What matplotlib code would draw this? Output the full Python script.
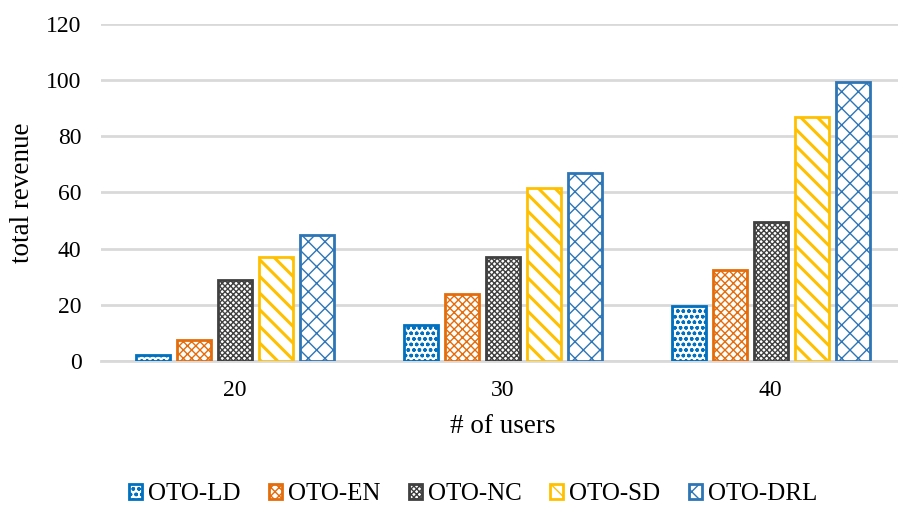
import numpy as np
import matplotlib
matplotlib.use("Agg")
import matplotlib.pyplot as plt

users = ["20", "30", "40"]
methods = ["OTO-LD", "OTO-EN", "OTO-NC", "OTO-SD", "OTO-DRL"]
ld = [2.0, 12.8, 19.5]
en = [7.5, 24.0, 32.4]
nc = [29.0, 37.0, 49.5]
sd = [37.0, 61.5, 86.8]
drl = [45.0, 67.0, 99.3]
yticks = [0, 20, 40, 60, 80, 100, 120]

series = [ld, en, nc, sd, drl]
colors = ["#0070C0", "#E46C0A", "#404040", "#FFC000", "#2E75B6"]
hatches = ["ooo", "xxxx", "xxxxxx", "\\\\", "xx"]
hlw = [1.0, 1.0, 1.0, 2.2, 1.0]

plt.rcParams['font.family'] = ['Liberation Serif', 'DejaVu Serif']

fig = plt.figure(figsize=(8.98, 5.07), dpi=100)
ax = fig.add_axes([0.1125, 0.288, 0.895, 0.665])

x = np.arange(len(users))
width = 0.127
step = 0.153
for i, (vals, c, h, lw) in enumerate(zip(series, colors, hatches, hlw)):
    with plt.rc_context({'hatch.linewidth': lw}):
        bars = ax.bar(x + (i - 2) * step, vals, width, facecolor="white",
                      edgecolor=c, hatch=h, linewidth=2, label=methods[i],
                      zorder=3)
    for b in bars:
        if hasattr(b, "set_hatch_linewidth"):
            b.set_hatch_linewidth(lw)

ax.set_xlim(-0.5, 2.5)
ax.set_ylim(0, 120)
ax.set_yticks(yticks)
ax.set_xticks(x)
ax.set_xticklabels(users)
ax.tick_params(axis="both", length=0, labelsize=17)
ax.tick_params(axis="x", pad=14)
ax.tick_params(axis="y", pad=14)
ax.yaxis.grid(True, color="#D9D9D9", linewidth=2, zorder=0)
for s in ["top", "right", "left"]:
    ax.spines[s].set_visible(False)
ax.spines["bottom"].set_color("#D9D9D9")
ax.spines["bottom"].set_linewidth(2)
ax.set_xlabel("# of users", fontsize=19.5, labelpad=9)
ax.set_ylabel("total revenue", fontsize=19.5, labelpad=8)

fig.legend(loc="center", bbox_to_anchor=(0.527, 0.025), ncol=5, frameon=False,
           fontsize=18, handlelength=0.5, handleheight=0.5, handletextpad=0.25,
           columnspacing=1.15)

fig.savefig("out.png", dpi=100)
